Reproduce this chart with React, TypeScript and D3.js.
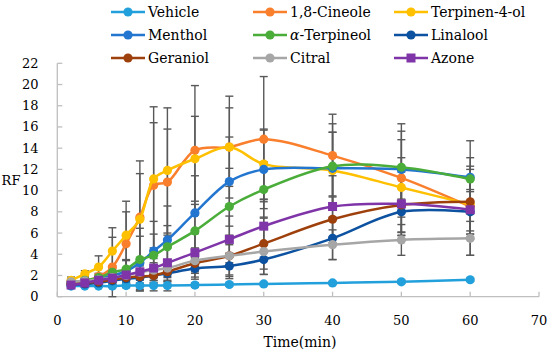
import React from 'react';
import * as d3 from 'd3';

const times = [2, 4, 6, 8, 10, 12, 14, 16, 20, 25, 30, 40, 50, 60];
const xTicks = [0, 10, 20, 30, 40, 50, 60, 70];
const yTicks = [0, 2, 4, 6, 8, 10, 12, 14, 16, 18, 20, 22];

const seriesNames = ['Vehicle', '1,8-Cineole', 'Terpinen-4-ol', 'Menthol', 'α-Terpineol', 'Linalool', 'Geraniol', 'Citral', 'Azone'];
const seriesColors = ['#22a0dc', '#f97f2c', '#ffc000', '#2276cf', '#4aad3a', '#0d52a0', '#9e400c', '#a6a6a6', '#7f35a8'];

const vehicle = [1.0, 1.0, 1.0, 1.0, 1.05, 1.05, 1.05, 1.05, 1.1, 1.15, 1.2, 1.3, 1.4, 1.6];
const vehicleSD = [0.1, 0.1, 0.1, 0.15, 0.2, 0.5, 0.5, 0.5, 0.2, 0.15, 0.15, 0.15, 0.15, 0.15];
const cineole = [1.3, 1.5, 1.9, 2.8, 5.0, 7.5, 10.5, 10.8, 13.8, 14.1, 14.85, 13.3, 11.2, 8.5];
const cineoleSD = [0.3, 0.4, 0.8, 2.8, 3.0, 4.1, 5.9, 5.0, 6.1, 3.7, 5.9, 3.9, 5.1, 4.6];
const terpinen = [1.55, 2.15, 2.8, 4.3, 5.8, 7.3, 11.1, 11.9, 13.0, 14.1, 12.5, 11.9, 10.3, 8.7];
const terpinenSD = [0.3, 0.3, 1.05, 2.2, 3.2, 5.5, 6.8, 5.9, 4.0, 4.8, 3.3, 3.6, 2.8, 2.5];
const menthol = [1.3, 1.5, 1.7, 2.0, 2.4, 3.2, 4.3, 5.35, 7.9, 10.85, 12.0, 12.1, 12.0, 11.25];
const mentholSD = [0.2, 0.3, 0.4, 0.6, 1.0, 2.5, 2.8, 3.2, 3.5, 4.2, 3.7, 3.4, 2.8, 3.45];
const terpineol = [1.35, 1.55, 1.8, 2.3, 2.6, 3.5, 3.9, 4.7, 6.2, 8.5, 10.1, 12.3, 12.2, 11.1];
const terpineolSD = [0.2, 0.3, 0.4, 0.6, 0.9, 2.95, 2.0, 2.0, 2.5, 3.6, 2.6, 4.0, 3.4, 1.2];
const linalool = [1.1, 1.2, 1.3, 1.5, 1.7, 1.8, 2.0, 2.2, 2.65, 2.9, 3.5, 5.5, 8.0, 8.0];
const linaloolSD = [0.1, 0.2, 0.2, 0.3, 0.4, 0.6, 0.7, 0.8, 1.0, 1.2, 1.4, 2.0, 2.2, 2.1];
const geraniol = [1.2, 1.3, 1.4, 1.6, 1.8, 1.9, 2.0, 2.35, 3.15, 3.85, 5.0, 7.3, 8.65, 8.95];
const geraniolSD = [0.1, 0.2, 0.3, 0.4, 0.5, 0.6, 0.7, 0.9, 1.3, 1.8, 2.4, 2.2, 2.6, 3.05];
const citral = [1.4, 1.5, 1.6, 1.8, 2.0, 2.3, 2.5, 2.7, 3.4, 3.85, 4.25, 4.9, 5.35, 5.5];
const citralSD = [0.2, 0.2, 0.3, 0.4, 0.5, 0.6, 0.7, 0.8, 1.2, 1.95, 2.15, 1.4, 1.45, 1.6];
const azone = [1.1, 1.3, 1.55, 1.75, 2.05, 2.35, 2.7, 3.2, 4.15, 5.4, 6.65, 8.5, 8.75, 8.2];
const azoneSD = [0.1, 0.2, 0.3, 0.4, 0.5, 0.7, 0.9, 1.4, 1.8, 2.2, 2.5, 2.9, 3.0, 2.8];

const seriesValues = [vehicle, cineole, terpinen, menthol, terpineol, linalool, geraniol, citral, azone];
const seriesSD = [vehicleSD, cineoleSD, terpinenSD, mentholSD, terpineolSD, linaloolSD, geraniolSD, citralSD, azoneSD];

const FONT = '"DejaVu Serif", serif';

export default function App() {
  const x = d3.scaleLinear().domain([0, 70]).range([57.3, 539]);
  const y = d3.scaleLinear().domain([0, 22]).range([296.7, 63.3]);
  const line = d3
    .line<number>()
    .x((_, i) => x(times[i]))
    .y((d) => y(d))
    .curve(d3.curveCatmullRom.alpha(0.5));

  const legendCols = [111, 253, 394];
  const legendRows = [12, 35, 58];

  return (
    <svg width={550} height={356} style={{ position: 'absolute', left: 0, top: 0, background: '#fff' }}>
      {/* axes */}
      <line x1={x(0)} x2={x(0)} y1={y(22)} y2={y(0)} stroke="#bfbfbf" strokeWidth={1.3} />
      <line x1={x(0)} x2={x(70)} y1={y(0)} y2={y(0)} stroke="#bfbfbf" strokeWidth={1.3} />
      {yTicks.map((t) => (
        <g key={'yt' + t}>
          <line x1={x(0)} x2={x(0) + 5} y1={y(t)} y2={y(t)} stroke="#bfbfbf" strokeWidth={1.3} />
          <text x={38.5} y={y(t)} textAnchor="end" dominantBaseline="central" fontFamily={FONT} fontSize={13} fill="#000">
            {t}
          </text>
        </g>
      ))}
      {xTicks.map((t) => (
        <g key={'xt' + t}>
          <line x1={x(t)} x2={x(t)} y1={y(0)} y2={y(0) - 5} stroke="#bfbfbf" strokeWidth={1.3} />
          <text x={x(t)} y={320} textAnchor="middle" dominantBaseline="central" fontFamily={FONT} fontSize={13} fill="#000">
            {t}
          </text>
        </g>
      ))}
      <text x={300} y={342} textAnchor="middle" dominantBaseline="central" fontFamily={FONT} fontSize={14} fill="#000">
        Time(min)
      </text>
      <text x={11} y={y(11)} textAnchor="middle" dominantBaseline="central" fontFamily={FONT} fontSize={13} fill="#000">
        RF
      </text>

      {/* error bars */}
      {seriesValues.map((vals, si) =>
        vals.map((v, i) => {
          const sd = seriesSD[si][i];
          const cx = x(times[i]);
          const y1 = y(v + sd);
          const y2 = y(Math.max(0, v - sd));
          return (
            <g key={`eb${si}-${i}`} stroke="#595959" strokeWidth={1.4}>
              <line x1={cx} x2={cx} y1={y1} y2={y2} />
              <line x1={cx - 4} x2={cx + 4} y1={y1} y2={y1} />
              <line x1={cx - 4} x2={cx + 4} y1={y2} y2={y2} />
            </g>
          );
        })
      )}

      {/* lines and markers */}
      {seriesValues.map((vals, si) => (
        <g key={'s' + si}>
          <path d={line(vals) || ''} fill="none" stroke={seriesColors[si]} strokeWidth={2.5} />
          {vals.map((v, i) =>
            seriesNames[si] === 'Azone' ? (
              <rect key={i} x={x(times[i]) - 4.5} y={y(v) - 4.5} width={9} height={9} fill={seriesColors[si]} />
            ) : (
              <circle key={i} cx={x(times[i])} cy={y(v)} r={4.6} fill={seriesColors[si]} />
            )
          )}
        </g>
      ))}

      {/* legend */}
      {seriesNames.map((name, si) => {
        const lx = legendCols[si % 3];
        const ly = legendRows[Math.floor(si / 3)];
        const c = seriesColors[si];
        return (
          <g key={'lg' + si}>
            <line x1={lx} x2={lx + 34} y1={ly} y2={ly} stroke={c} strokeWidth={2.5} />
            {name === 'Azone' ? (
              <rect x={lx + 17 - 4.5} y={ly - 4.5} width={9} height={9} fill={c} />
            ) : (
              <circle cx={lx + 17} cy={ly} r={4.6} fill={c} />
            )}
            <text x={lx + 37} y={ly} dominantBaseline="central" fontFamily={FONT} fontSize={14} fill="#000">
              {name.startsWith('α') ? (
                <>
                  <tspan fontStyle="italic">α</tspan>
                  {name.slice(1)}
                </>
              ) : (
                name
              )}
            </text>
          </g>
        );
      })}
    </svg>
  );
}
